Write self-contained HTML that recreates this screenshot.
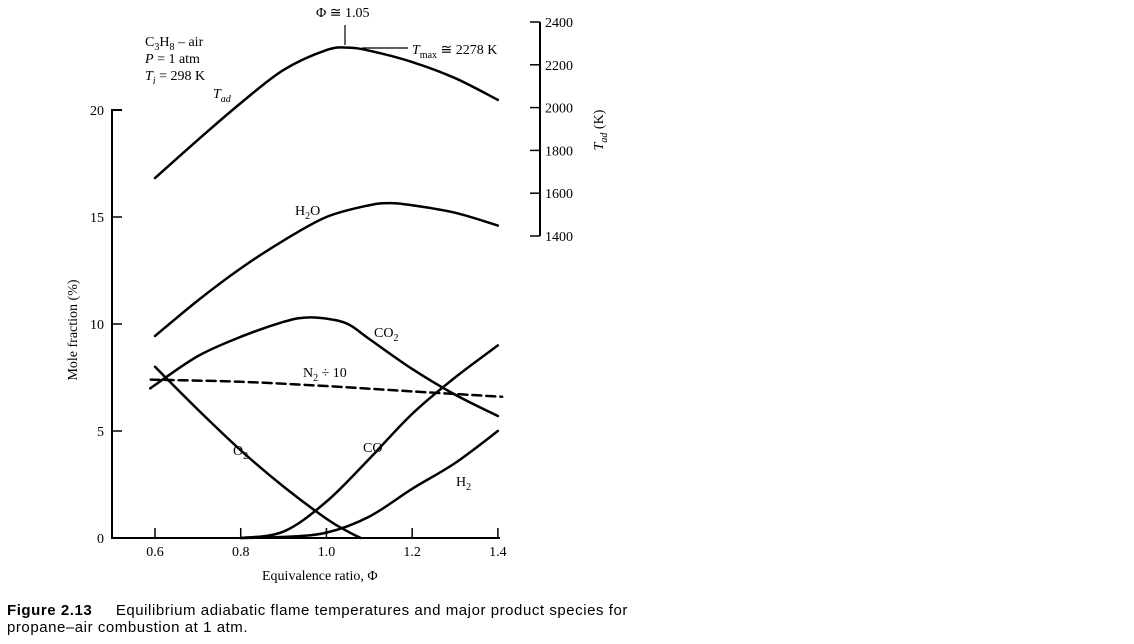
<!DOCTYPE html>
<html><head><meta charset="utf-8"><style>
body{margin:0;background:#fff;width:1134px;height:644px;overflow:hidden;}
svg text{font-family:"Liberation Serif",serif;fill:#000;}
.cap{font-family:"Liberation Sans",sans-serif;font-size:15px;letter-spacing:0.55px;position:absolute;left:7px;white-space:nowrap;}
</style></head><body>
<svg id="chart" width="1134" height="644" style="position:absolute;left:0;top:0">
<g id="axes"></g>
<g id="series"></g>
<g id="labels" font-size="14">
<text x="145" y="46">C<tspan font-size="10" dy="4">3</tspan><tspan dy="-4">H</tspan><tspan font-size="10" dy="4">8</tspan><tspan dy="-4"> – air</tspan></text>
<text x="145" y="63"><tspan font-style="italic">P</tspan> = 1 atm</text>
<text x="145" y="80"><tspan font-style="italic">T</tspan><tspan font-size="10" dy="4" font-style="italic">i</tspan><tspan dy="-4"> = 298 K</tspan></text>
<text x="316" y="17">Φ ≅ 1.05</text>
<line x1="345" y1="25" x2="345" y2="45" stroke="#000" stroke-width="1.2"/>
<line x1="362" y1="48" x2="408" y2="48" stroke="#000" stroke-width="1.2"/>
<text x="412" y="54"><tspan font-style="italic">T</tspan><tspan font-size="10" dy="4">max</tspan><tspan dy="-4"> ≅ 2278 K</tspan></text>
<text x="213" y="98" font-style="italic">T<tspan font-size="10" dy="4">ad</tspan></text>
<text x="295" y="215">H<tspan font-size="10" dy="4">2</tspan><tspan dy="-4">O</tspan></text>
<text x="374" y="337">CO<tspan font-size="10" dy="4">2</tspan></text>
<text x="303" y="377">N<tspan font-size="10" dy="4">2</tspan><tspan dy="-4"> ÷ 10</tspan></text>
<text x="233" y="455">O<tspan font-size="10" dy="4">2</tspan></text>
<text x="363" y="452">CO</text>
<text x="456" y="486">H<tspan font-size="10" dy="4">2</tspan></text>
<text x="262" y="580">Equivalence ratio, Φ</text>
<text transform="translate(77,330) rotate(-90)" text-anchor="middle">Mole fraction (%)</text>
<text transform="translate(603,130) rotate(-90)" text-anchor="middle"><tspan font-style="italic">T</tspan><tspan font-size="10" font-style="italic" dy="4">ad</tspan><tspan dy="-4"> (K)</tspan></text>
</g>
</svg>
<div class="cap" style="top:602px"><b>Figure 2.13</b>&nbsp;&nbsp;&nbsp;&nbsp;&nbsp;Equilibrium adiabatic flame temperatures and major product species for</div>
<div class="cap" style="top:619px">propane–air combustion at 1 atm.</div>
<script>
const xTicks=[0.6,0.8,1.0,1.2,1.4];
const yTicks=[0,5,10,15,20];
const y2Ticks=[1400,1600,1800,2000,2200,2400];
const phiTad=[0.6,0.7,0.8,0.9,1.0,1.05,1.1,1.2,1.3,1.4];
const tad=[1671,1849,2021,2176,2269,2280,2266,2213,2138,2036];
const phiH2O=[0.6,0.7,0.8,0.9,1.0,1.1,1.15,1.2,1.3,1.4];
const h2o=[9.44,11.1,12.6,13.9,15.0,15.55,15.65,15.55,15.2,14.6];
const phiCO2=[0.59,0.6,0.7,0.8,0.9,0.95,1.0,1.05,1.1,1.2,1.3,1.4];
const co2=[7.0,7.15,8.5,9.4,10.1,10.3,10.25,10.0,9.3,7.9,6.7,5.7];
const phiO2=[0.6,0.7,0.8,0.9,1.0,1.05,1.08];
const o2=[8.0,6.0,4.1,2.4,0.9,0.3,0.0];
const phiCO=[0.8,0.9,1.0,1.1,1.2,1.3,1.4];
const co=[0.0,0.3,1.7,3.7,5.8,7.5,9.0];
const phiH2=[0.8,0.9,1.0,1.1,1.2,1.3,1.4];
const h2=[0.0,0.05,0.25,1.0,2.3,3.5,5.0];
const phiN2=[0.59,0.8,1.0,1.2,1.41];
const n2=[7.4,7.3,7.1,6.85,6.6];
const NS='http://www.w3.org/2000/svg';
const X=p=>155+(p-0.6)*428.6;
const Y=v=>538-v*21.4;
const Y2=t=>22+(2400-t)*0.214;
function mk(tag,attrs,parent){const e=document.createElementNS(NS,tag);for(const k in attrs)e.setAttribute(k,attrs[k]);parent.appendChild(e);return e;}
const ax=document.getElementById('axes');
let e;
e=mk('path',{d:`M122,110 H112 V538 H500`,fill:'none',stroke:'#000','stroke-width':2},ax);


yTicks.forEach(v=>{
 e=mk('line',{x1:112,x2:122,y1:Y(v),y2:Y(v),stroke:'#000','stroke-width':1.5},ax);
 
 
 e=mk('text',{x:104,y:Y(v)+5,'text-anchor':'end','font-size':14},ax);e.textContent=v;
 
 
});
xTicks.forEach(p=>{
 e=mk('line',{x1:X(p),x2:X(p),y1:528,y2:538,stroke:'#000','stroke-width':1.5},ax);
 
 
 e=mk('text',{x:X(p),y:556,'text-anchor':'middle','font-size':14},ax);e.textContent=p.toFixed(1);
 
 
});
e=mk('line',{x1:540,x2:540,y1:Y2(2400),y2:Y2(1400),stroke:'#000','stroke-width':2},ax);


y2Ticks.forEach(t=>{
 e=mk('line',{x1:530,x2:540,y1:Y2(t),y2:Y2(t),stroke:'#000','stroke-width':1.5},ax);
 
 
 e=mk('text',{x:545,y:Y2(t)+5,'font-size':14},ax);e.textContent=t;
 
 
});
function smooth(pts){let d=`M${pts[0][0]},${pts[0][1]}`;for(let i=0;i<pts.length-1;i++){const p0=pts[i-1]||pts[i],p1=pts[i],p2=pts[i+1],p3=pts[i+2]||p2;const c1=[p1[0]+(p2[0]-p0[0])/6,p1[1]+(p2[1]-p0[1])/6],c2=[p2[0]-(p3[0]-p1[0])/6,p2[1]-(p3[1]-p1[1])/6];d+=` C${c1[0]},${c1[1]} ${c2[0]},${c2[1]} ${p2[0]},${p2[1]}`;}return d;}
const sg=document.getElementById('series');
function line(xs,ys,yf,name,dash){
 const pts=xs.map((p,i)=>[X(p),yf(ys[i])]);
 const el=mk('path',{d:smooth(pts),fill:'none',stroke:'#000','stroke-width':2.5,'stroke-linecap':'round'},sg);
 if(dash)el.setAttribute('stroke-dasharray',dash);
 
 
}
line(phiTad,tad,Y2,'tad-line');
line(phiH2O,h2o,Y,'h2o-line');
line(phiCO2,co2,Y,'co2-line');
line(phiO2,o2,Y,'o2-line');
line(phiCO,co,Y,'co-line');
line(phiH2,h2,Y,'h2-line');
line(phiN2,n2,Y,'n2-line','9,5');
</script>
</body></html>
